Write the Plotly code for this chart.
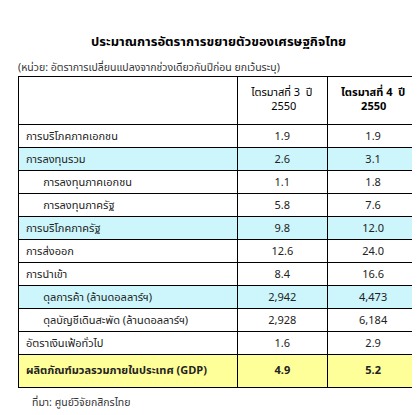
import plotly.graph_objects as go

# Row labels and values
labels = ["การบริโภคภาคเอกชน", "การลงทุนรวม", "การลงทุนภาคเอกชน", "การลงทุนภาครัฐ",
          "การบริโภคภาครัฐ", "การส่งออก", "การนำเข้า", "ดุลการค้า (ล้านดอลลาร์ฯ)",
          "ดุลบัญชีเดินสะพัด (ล้านดอลลาร์ฯ)", "อัตราเงินเฟ้อทั่วไป",
          "ผลิตภัณฑ์มวลรวมภายในประเทศ (GDP)"]
indent = [0, 0, 1, 1, 0, 0, 0, 1, 1, 0, 0]
q3_2550 = ["1.9", "2.6", "1.1", "5.8", "9.8", "12.6", "8.4", "2,942", "2,928", "1.6", "4.9"]
q4_2550 = ["1.9", "3.1", "1.8", "7.6", "12.0", "24.0", "16.6", "4,473", "6,184", "2.9", "5.2"]
row_kind = ["", "hl", "", "", "hl", "", "", "hl", "", "", "gdp"]

fills = {"": "white", "hl": "#ccf6fc", "gdp": "#ffff99"}
row_fill = [fills[k] for k in row_kind]

def fmt(s, k):
    return "<b>" + s + "</b>" if k == "gdp" else s

col0 = [("\u00a0" * 6 if i else "") + fmt(l, k) for l, i, k in zip(labels, indent, row_kind)]
col1 = [fmt(v, k) for v, k in zip(q3_2550, row_kind)]
col2 = [fmt(v, k) for v, k in zip(q4_2550, row_kind)]

FONT = "Tahoma, 'Noto Sans Thai', 'Noto Sans', sans-serif"
pad = "\u00a0" * 7

fig = go.Figure(go.Table(
    domain=dict(x=[10 / 420, 412 / 420], y=[0.0, 1 - 68 / 415]),
    columnwidth=[220, 90, 92],
    header=dict(
        values=["", "ไตรมาสที่ 3  ปี<br>" + pad + "2550",
                "<b>ไตรมาสที่ 4  ปี<br>" + pad + "2550</b>"],
        align=["left", "center", "center"],
        fill_color="white",
        line=dict(color="black", width=1),
        font=dict(family=FONT, size=11, color="black"),
        height=48,
    ),
    cells=dict(
        values=[col0, col1, col2],
        align=["left", "center", "center"],
        fill_color=[row_fill, row_fill, row_fill],
        line=dict(color="black", width=1),
        font=dict(family=FONT, size=11, color="#222"),
        height=23,
    ),
))

fig.add_annotation(text="<b>ประมาณการอัตราการขยายตัวของเศรษฐกิจไทย</b>", x=0.5, y=1 - 22 / 415,
                   xref="paper", yref="paper", showarrow=False,
                   font=dict(family=FONT, size=13, color="black"))
fig.add_annotation(text="(หน่วย: อัตราการเปลี่ยนแปลงจากช่วงเดียวกันปีก่อน ยกเว้นระบุ)", x=8 / 420,
                   y=1 - 50 / 415, xref="paper", yref="paper", xanchor="left", showarrow=False,
                   font=dict(family=FONT, size=10.5, color="#333"))
fig.add_annotation(text="ที่มา: ศูนย์วิจัยกสิกรไทย", x=22 / 420, y=1 - 405 / 415,
                   xref="paper", yref="paper", xanchor="left", showarrow=False,
                   font=dict(family=FONT, size=10.5, color="#333"))

fig.update_layout(width=420, height=415, margin=dict(l=0, r=0, t=0, b=0),
                  paper_bgcolor="white")
fig.write_html("out.html")
